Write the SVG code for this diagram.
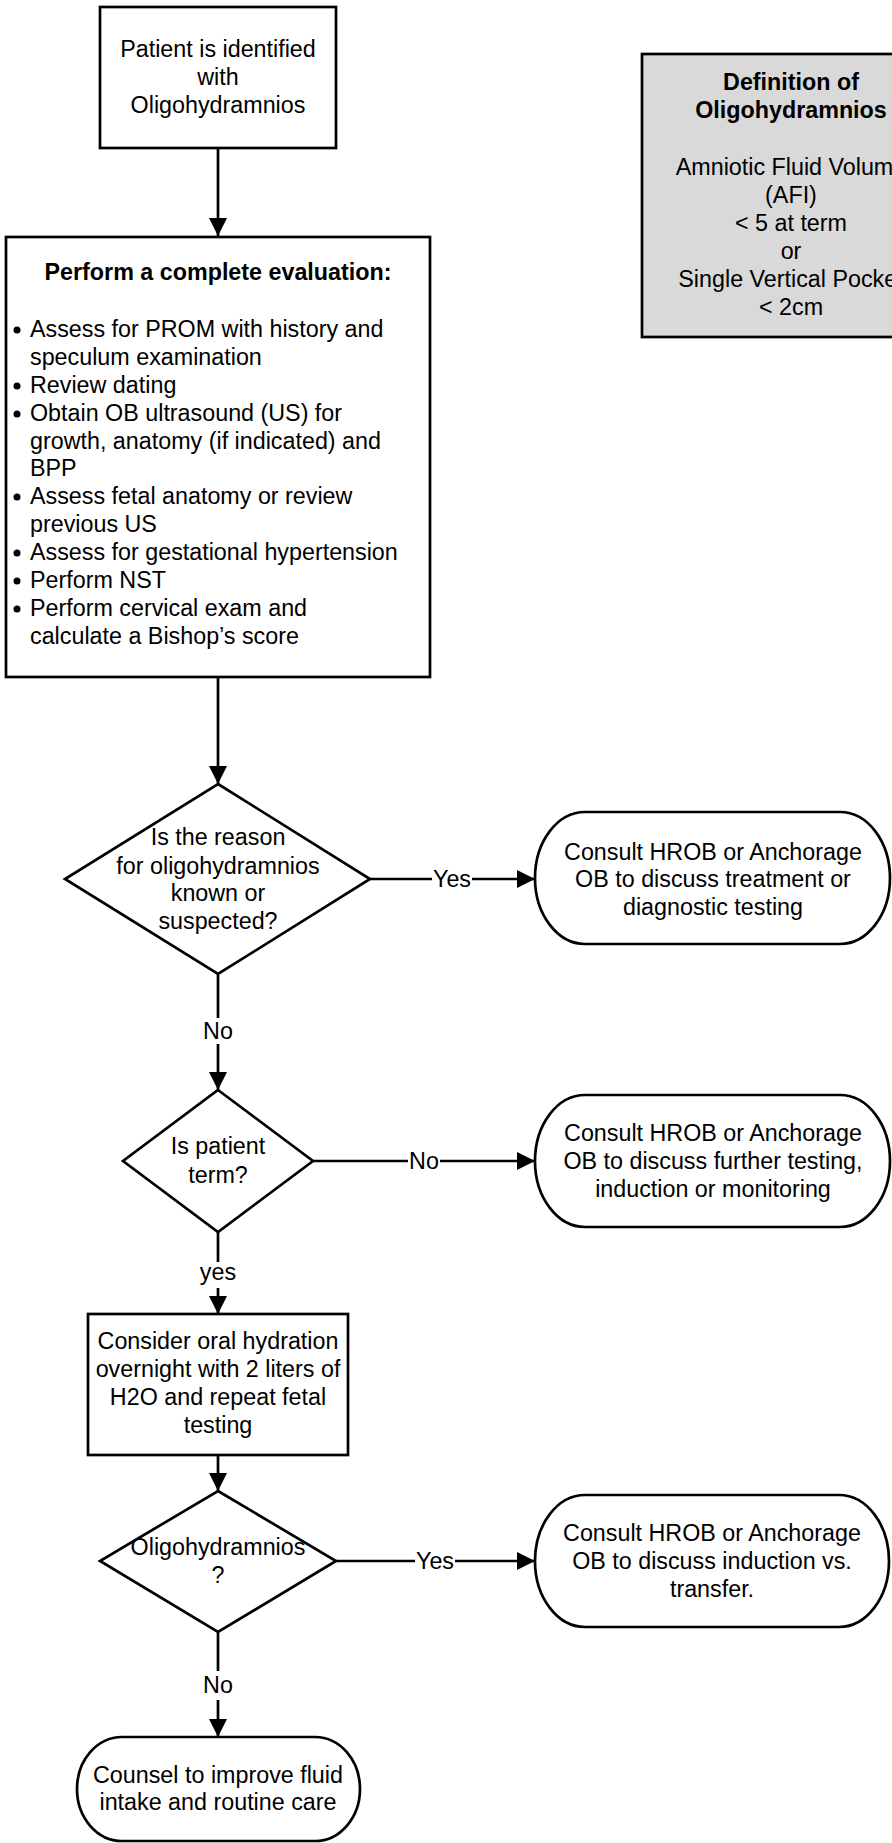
<svg xmlns="http://www.w3.org/2000/svg" width="892" height="1843" viewBox="0 0 892 1843">
<style>
text{font-family:"Liberation Sans",Arial,sans-serif;font-size:23.3px;fill:#000}
.c{text-anchor:middle}
.b{font-weight:bold}
.shape{fill:#fff;stroke:#000;stroke-width:2.7}
.note{fill:#d9d9d9;stroke:#000;stroke-width:2.7}
.ln{fill:none;stroke:#000;stroke-width:2.7}
.lbl{fill:#fff;stroke:none}
</style>
<defs>
<marker id="ah" markerWidth="18" markerHeight="18" viewBox="0 0 18 18" refX="18" refY="9" orient="auto" markerUnits="userSpaceOnUse">
<path d="M0,0 L18,9 L0,18 Z" fill="#000"/>
</marker>
</defs>
<rect width="892" height="1843" fill="#fff"/>

<g id="connectors">
<line class="ln" x1="218" y1="148" x2="218" y2="236" marker-end="url(#ah)"/>
<line class="ln" x1="218" y1="677" x2="218" y2="784" marker-end="url(#ah)"/>
<line class="ln" x1="370" y1="879" x2="535" y2="879" marker-end="url(#ah)"/>
<rect class="lbl" x="432" y="866" width="40" height="24"/>
<text class="c" x="452" y="887">Yes</text>
<line class="ln" x1="218" y1="974" x2="218" y2="1090" marker-end="url(#ah)"/>
<rect class="lbl" x="202" y="1018" width="32" height="26"/>
<text class="c" x="218" y="1039">No</text>
<line class="ln" x1="313" y1="1161" x2="535" y2="1161" marker-end="url(#ah)"/>
<rect class="lbl" x="408" y="1148" width="32" height="24"/>
<text class="c" x="424" y="1169">No</text>
<line class="ln" x1="218" y1="1232" x2="218" y2="1314" marker-end="url(#ah)"/>
<rect class="lbl" x="200" y="1262" width="36" height="26"/>
<text class="c" x="218" y="1280">yes</text>
<line class="ln" x1="218" y1="1455" x2="218" y2="1491" marker-end="url(#ah)"/>
<line class="ln" x1="336" y1="1561" x2="535" y2="1561" marker-end="url(#ah)"/>
<rect class="lbl" x="415" y="1548" width="40" height="24"/>
<text class="c" x="435" y="1569">Yes</text>
<line class="ln" x1="218" y1="1632" x2="218" y2="1737" marker-end="url(#ah)"/>
<rect class="lbl" x="202" y="1671" width="32" height="29"/>
<text class="c" x="218" y="1693">No</text>
</g>

<g id="start">
<rect class="shape" x="100" y="7" width="236" height="141"/>
<text class="c" x="218" y="57">Patient is identified</text>
<text class="c" x="218" y="85">with</text>
<text class="c" x="218" y="113">Oligohydramnios</text>
</g>

<g id="definition">
<rect class="note" x="642" y="54" width="298" height="283"/>
<text class="c b" x="791" y="90">Definition of</text>
<text class="c b" x="791" y="118">Oligohydramnios</text>
<text class="c" x="791" y="175">Amniotic Fluid Volume</text>
<text class="c" x="791" y="203">(AFI)</text>
<text class="c" x="791" y="231">&lt; 5 at term</text>
<text class="c" x="791" y="259">or</text>
<text class="c" x="791" y="287">Single Vertical Pocket</text>
<text class="c" x="791" y="315">&lt; 2cm</text>
</g>

<g id="evaluation">
<rect class="shape" x="6" y="237" width="424" height="440"/>
<text class="c b" x="218" y="280">Perform a complete evaluation:</text>
<g>
<circle cx="17" cy="330" r="3.5"/>
<text x="30" y="337">Assess for PROM with history and</text>
<text x="30" y="365">speculum examination</text>
<circle cx="17" cy="386" r="3.5"/>
<text x="30" y="393">Review dating</text>
<circle cx="17" cy="414" r="3.5"/>
<text x="30" y="421">Obtain OB ultrasound (US) for</text>
<text x="30" y="449">growth, anatomy (if indicated) and</text>
<text x="30" y="476">BPP</text>
<circle cx="17" cy="497" r="3.5"/>
<text x="30" y="504">Assess fetal anatomy or review</text>
<text x="30" y="532">previous US</text>
<circle cx="17" cy="553" r="3.5"/>
<text x="30" y="560">Assess for gestational hypertension</text>
<circle cx="17" cy="581" r="3.5"/>
<text x="30" y="588">Perform NST</text>
<circle cx="17" cy="609" r="3.5"/>
<text x="30" y="616">Perform cervical exam and</text>
<text x="30" y="644">calculate a Bishop’s score</text>
</g>
</g>

<g id="decision-reason">
<polygon class="shape" points="218,784 370,879 218,974 65,879"/>
<text class="c" x="218" y="845">Is the reason</text>
<text class="c" x="218" y="874">for oligohydramnios</text>
<text class="c" x="218" y="901">known or</text>
<text class="c" x="218" y="929">suspected?</text>
</g>

<g id="consult-treatment">
<rect class="shape" x="535" y="812" width="355" height="132" rx="50" ry="66"/>
<text class="c" x="713" y="860">Consult HROB or Anchorage</text>
<text class="c" x="713" y="887">OB to discuss treatment or</text>
<text class="c" x="713" y="915">diagnostic testing</text>
</g>

<g id="decision-term">
<polygon class="shape" points="218,1090 313,1161 218,1232 123,1161"/>
<text class="c" x="218" y="1154">Is patient</text>
<text class="c" x="218" y="1183">term?</text>
</g>

<g id="consult-testing">
<rect class="shape" x="535" y="1095" width="355" height="132" rx="50" ry="66"/>
<text class="c" x="713" y="1141">Consult HROB or Anchorage</text>
<text class="c" x="713" y="1169">OB to discuss further testing,</text>
<text class="c" x="713" y="1197">induction or monitoring</text>
</g>

<g id="hydration">
<rect class="shape" x="88" y="1314" width="260" height="141"/>
<text class="c" x="218" y="1349">Consider oral hydration</text>
<text class="c" x="218" y="1377">overnight with 2 liters of</text>
<text class="c" x="218" y="1405">H2O and repeat fetal</text>
<text class="c" x="218" y="1433">testing</text>
</g>

<g id="decision-oligo">
<polygon class="shape" points="218,1491 336,1561 218,1632 100,1561"/>
<text class="c" x="218" y="1555">Oligohydramnios</text>
<text class="c" x="218" y="1583">?</text>
</g>

<g id="consult-induction">
<rect class="shape" x="535" y="1495" width="354" height="132" rx="50" ry="66"/>
<text class="c" x="712" y="1541">Consult HROB or Anchorage</text>
<text class="c" x="712" y="1569">OB to discuss induction vs.</text>
<text class="c" x="712" y="1597">transfer.</text>
</g>

<g id="counsel">
<rect class="shape" x="77" y="1737" width="283" height="104" rx="45" ry="52"/>
<text class="c" x="218" y="1783">Counsel to improve fluid</text>
<text class="c" x="218" y="1810">intake and routine care</text>
</g>
</svg>
